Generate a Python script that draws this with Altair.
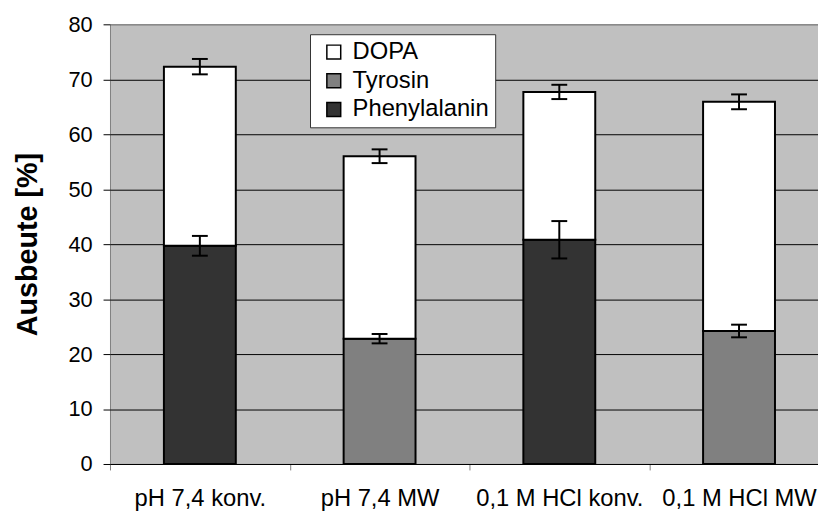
import altair as alt
import pandas as pd

categories = ["pH 7,4 konv.", "pH 7,4 MW", "0,1 M HCl konv.", "0,1 M HCl MW"]
base_component = ["Phenylalanin", "Tyrosin", "Phenylalanin", "Tyrosin"]
base_values = [39.7, 22.8, 40.8, 24.2]
dopa_values = [32.6, 33.2, 26.9, 41.7]
base_errors = [1.8, 0.85, 3.4, 1.15]
total_errors = [1.4, 1.25, 1.3, 1.35]

series_names = ["DOPA", "Tyrosin", "Phenylalanin"]
series_colors = ["#ffffff", "#808080", "#333333"]
y_ticks = [0, 10, 20, 30, 40, 50, 60, 70, 80]

FONT = "Liberation Sans"

rows = []
for c, comp, b, d in zip(categories, base_component, base_values, dopa_values):
    rows.append({"cat": c, "comp": comp, "value": b, "order": 0})
    rows.append({"cat": c, "comp": "DOPA", "value": d, "order": 1})
bars_df = pd.DataFrame(rows)

err_rows = []
for c, b, d, eb, et in zip(categories, base_values, dopa_values, base_errors, total_errors):
    err_rows.append({"cat": c, "low": b - eb, "high": b + eb})
    t = b + d
    err_rows.append({"cat": c, "low": t - et, "high": t + et})
err_df = pd.DataFrame(err_rows)

x_enc = alt.X(
    "cat:N",
    sort=categories,
    scale=alt.Scale(paddingInner=0, paddingOuter=0),
    axis=alt.Axis(
        title=None, labelAngle=0, tickBand="extent", tickSize=6, tickColor="#808080",
        domainColor="#000000", domainWidth=1, labelFontSize=24, labelPadding=17,
        labelColor="#000000", labelFont=FONT,
    ),
)

y_axis = alt.Axis(
    title="Ausbeute [%]", values=y_ticks, grid=True,
    gridColor=alt.condition("datum.value >= 80", alt.value("#808080"), alt.value("#000000")),
    gridWidth=1, domain=False, tickColor="#000000", tickSize=7,
    labelFontSize=22, labelPadding=11, labelColor="#000000", labelFont=FONT,
    titleFontSize=29, titleFont=FONT, titleFontWeight="bold", titleColor="#000000",
    titlePadding=26,
)
y_scale = alt.Scale(domain=[0, 80], nice=False)

bars = alt.Chart(bars_df).mark_bar(
    width=alt.RelativeBandSize(0.4), stroke="black", strokeWidth=2
).encode(
    x=x_enc,
    y=alt.Y("value:Q", stack="zero", scale=y_scale, axis=y_axis),
    color=alt.Color(
        "comp:N",
        scale=alt.Scale(domain=series_names, range=series_colors),
        legend=alt.Legend(
            title=None, orient="none", legendX=202, legendY=10,
            symbolType="square", symbolSize=196, symbolStrokeColor="black",
            symbolStrokeWidth=1.5, symbolOpacity=1, symbolOffset=6,
            labelFontSize=24, labelFont=FONT, labelColor="#000000",
            fillColor="white", strokeColor="#333333", padding=6,
            rowPadding=5, labelOffset=7,
        ),
    ),
    order=alt.Order("order:Q"),
)

x_plain = alt.X("cat:N", sort=categories)

err_rule = alt.Chart(err_df).mark_rule(color="black", strokeWidth=2).encode(
    x=x_plain,
    y=alt.Y("low:Q", scale=y_scale, title="Ausbeute [%]"),
    y2="high:Q",
)
cap_low = alt.Chart(err_df).mark_tick(
    color="black", size=16, thickness=2, orient="horizontal", opacity=1
).encode(x=x_plain, y=alt.Y("low:Q", title="Ausbeute [%]"))
cap_high = alt.Chart(err_df).mark_tick(
    color="black", size=16, thickness=2, orient="horizontal", opacity=1
).encode(x=x_plain, y=alt.Y("high:Q", title="Ausbeute [%]"))

chart = alt.layer(bars, err_rule, cap_low, cap_high).properties(
    width=726,
    height=444,
    padding={"left": 103, "top": 14, "right": -11, "bottom": 47},
    autosize=alt.AutoSizeParams(type="none"),
    background="white",
).configure_view(
    fill="#c0c0c0", stroke="#808080", strokeWidth=1
)

chart.save("out.html", embed_options={"renderer": "svg", "actions": False})
